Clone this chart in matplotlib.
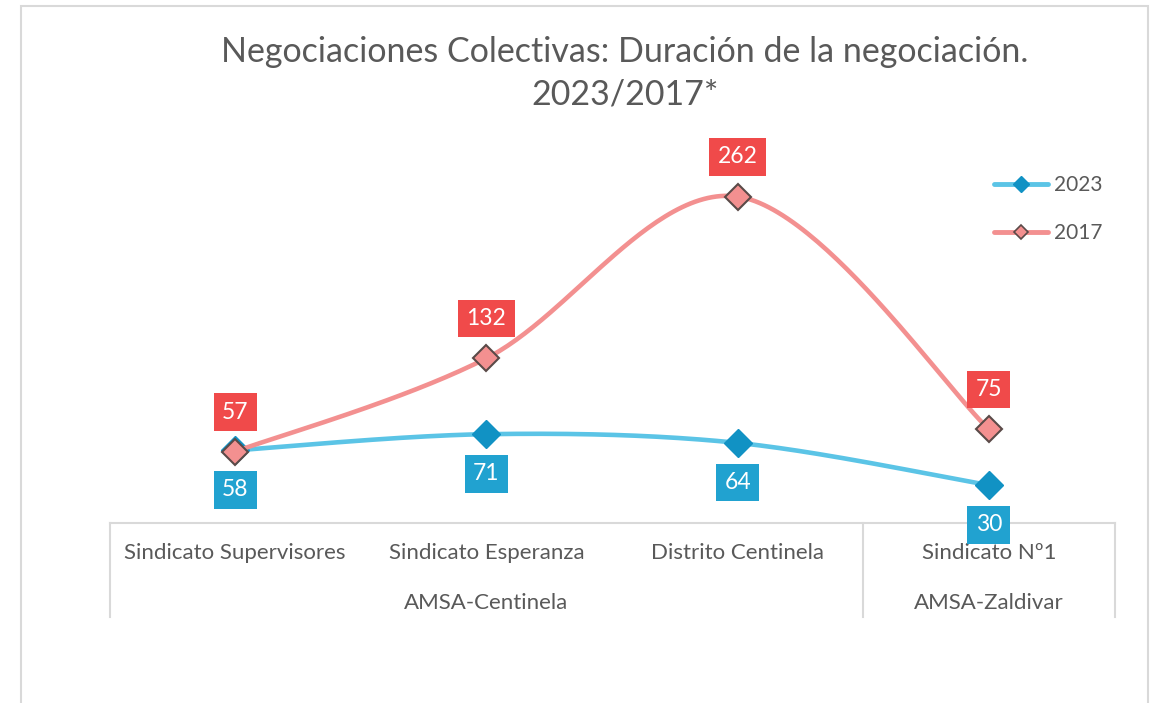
import numpy as np
import matplotlib
matplotlib.use("Agg")
import matplotlib.pyplot as plt
from matplotlib.lines import Line2D
from matplotlib.patches import Rectangle

plt.rcParams['font.family'] = ['Lato', 'DejaVu Sans']

# --- data ---
categories = ["Sindicato Supervisores", "Sindicato Esperanza", "Distrito Centinela", "Sindicato Nº1"]
groups = ["AMSA-Centinela", "AMSA-Zaldivar"]
group_sizes = [3, 1]
series_names = ["2023", "2017"]
values_2023 = [58, 71, 64, 30]
values_2017 = [57, 132, 262, 75]

title = "Negociaciones Colectivas: Duración de la negociación.\n2023/2017*"

TXT = "#595959"
GRID = "#D9D9D9"
LINE_23, MARK_23, BOX_23 = "#5BC4E6", "#1192C4", "#21A2D0"
LINE_17, MARK_17, BOX_17 = "#F39090", "#F39090", "#F04A4A"


def smooth(x, y, n=60):
    # Excel style smoothed line: cubic bezier with control points at 1/6 of neighbour chord
    P = np.column_stack([x, y]).astype(float)
    E = np.vstack([P[0], P, P[-1]])
    out = []
    t = np.linspace(0, 1, n)[:, None]
    for i in range(len(P) - 1):
        p0, p1, p2, p3 = E[i], E[i + 1], E[i + 2], E[i + 3]
        c1 = p1 + (p2 - p0) / 6
        c2 = p2 - (p3 - p1) / 6
        seg = (1 - t)**3 * p1 + 3 * (1 - t)**2 * t * c1 + 3 * (1 - t) * t**2 * c2 + t**3 * p2
        out.append(seg if i == 0 else seg[1:])
    return np.vstack(out)


fig = plt.figure(figsize=(11.5, 7.03), dpi=100)
ax = fig.add_axes([109.5 / 1150, (703 - 522.5) / 703, 1005 / 1150, 373.2 / 703])

x = np.arange(len(categories))

# 2023 first, 2017 on top
s23 = smooth(x, values_2023)
ax.plot(s23[:, 0], s23[:, 1], color=LINE_23, lw=3.3, solid_capstyle='round', zorder=2)
ax.plot(x, values_2023, ls='none', marker='D', ms=14, color=MARK_23, mec=MARK_23, zorder=3)

s17 = smooth(x, values_2017)
ax.plot(s17[:, 0], s17[:, 1], color=LINE_17, lw=3.3, solid_capstyle='round', zorder=4)
ax.plot(x, values_2017, ls='none', marker='D', ms=13, color=MARK_17, mec="#5A4A48", mew=1.5, zorder=5)

# data labels
lab_style = dict(textcoords='offset points', ha='center', va='center', color='white',
                 fontsize=16.5, zorder=6)
for xi, v in zip(x, values_2023):
    ax.annotate(str(v), (xi, v), xytext=(0, -28.5), **lab_style,
                bbox=dict(boxstyle='square,pad=0.36', fc=BOX_23, ec='none'))
for xi, v in zip(x, values_2017):
    ax.annotate(str(v), (xi, v), xytext=(0, 28.5), **lab_style,
                bbox=dict(boxstyle='square,pad=0.36', fc=BOX_17, ec='none'))

ax.set_xlim(-0.5, len(categories) - 0.5)
ax.set_ylim(0, 300)
for sp in ax.spines.values():
    sp.set_visible(False)
ax.set_xticks([])
ax.set_yticks([])

# category axis: base line, group separators, two label rows
ax.plot([-0.5, len(categories) - 0.5], [0, 0], color=GRID, lw=1.5, clip_on=False, zorder=1)
bounds = np.concatenate([[0], np.cumsum(group_sizes)]) - 0.5
xt = ax.get_xaxis_transform()
for b in bounds:
    ax.plot([b, b], [0, -0.252], color=GRID, lw=1.5, transform=xt, clip_on=False)
for xi, c in zip(x, categories):
    ax.text(xi, -0.083, c, transform=xt, ha='center', va='center', fontsize=16, color=TXT)
for i, g in enumerate(groups):
    mid = (bounds[i] + bounds[i + 1]) / 2
    ax.text(mid, -0.215, g, transform=xt, ha='center', va='center', fontsize=16, color=TXT)

# legend
handles = [
    Line2D([], [], color=LINE_23, lw=3.5, marker='D', ms=8, mfc=MARK_23, mec=MARK_23, solid_capstyle='round'),
    Line2D([], [], color=LINE_17, lw=3.5, marker='D', ms=7.5, mfc=MARK_17, mec="#5A4A48", mew=1.2, solid_capstyle='round'),
]
fig.legend(handles, series_names, loc='center left', bbox_to_anchor=(975 / 1150, 1 - 209 / 703),
           frameon=False, fontsize=15, handlelength=2.6, handletextpad=0.3, labelspacing=1.35,
           labelcolor=TXT)

fig.text(625 / 1150, 1 - 73 / 703, title, ha='center', va='center', fontsize=24.5, color=TXT,
         linespacing=1.4)

# chart border
fig.add_artist(Rectangle((21 / 1150, -0.05), 1127 / 1150, 1.05 - 6 / 703, transform=fig.transFigure,
                         fill=False, ec=GRID, lw=1.5))

fig.savefig("out.png", dpi=100)
